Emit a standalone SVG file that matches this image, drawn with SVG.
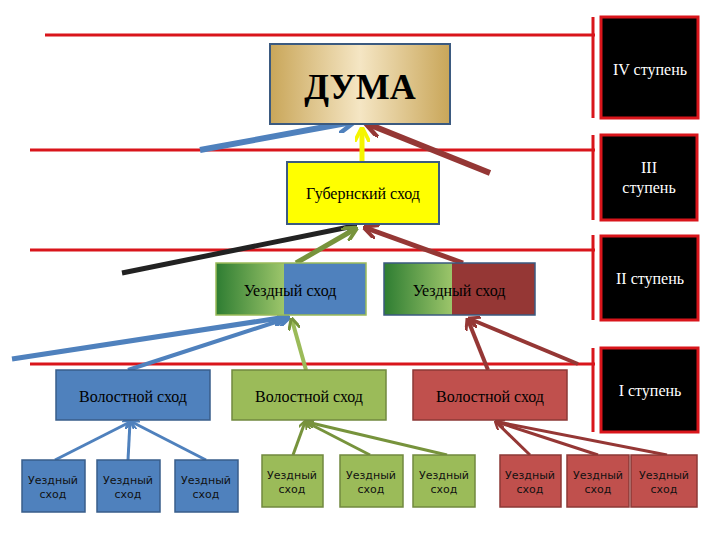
<svg xmlns="http://www.w3.org/2000/svg" width="720" height="540" viewBox="0 0 720 540">
<defs>
<linearGradient id="gold" x1="0" y1="0" x2="1" y2="0"><stop offset="0" stop-color="#c9a659"/><stop offset="0.5" stop-color="#f5e6c4"/><stop offset="1" stop-color="#c9a659"/></linearGradient>
<linearGradient id="gb" x1="0" y1="0" x2="1" y2="0"><stop offset="0" stop-color="#2e7d32"/><stop offset="0.45" stop-color="#9cc56a"/><stop offset="0.45" stop-color="#4f81bd"/><stop offset="1" stop-color="#4f81bd"/></linearGradient>
<linearGradient id="gr" x1="0" y1="0" x2="1" y2="0"><stop offset="0" stop-color="#2e7d32"/><stop offset="0.45" stop-color="#9cc56a"/><stop offset="0.45" stop-color="#953735"/><stop offset="1" stop-color="#953735"/></linearGradient>
<marker id="mb" viewBox="0 0 10 10" refX="8" refY="5" markerWidth="3" markerHeight="3" orient="auto"><path d="M0,0L10,5L0,10" fill="none" stroke="#4f81bd" stroke-width="2.5"/></marker>
<marker id="mr" viewBox="0 0 10 10" refX="8" refY="5" markerWidth="3" markerHeight="3" orient="auto"><path d="M0,0L10,5L0,10" fill="none" stroke="#953735" stroke-width="2.5"/></marker>
<marker id="mg" viewBox="0 0 10 10" refX="8" refY="5" markerWidth="3" markerHeight="3" orient="auto"><path d="M0,0L10,5L0,10" fill="none" stroke="#77933c" stroke-width="2.5"/></marker>
<marker id="mk" viewBox="0 0 10 10" refX="8" refY="5" markerWidth="3" markerHeight="3" orient="auto"><path d="M0,0L10,5L0,10" fill="none" stroke="#222" stroke-width="2.5"/></marker>
<marker id="my" viewBox="0 0 10 10" refX="8" refY="5" markerWidth="3" markerHeight="3" orient="auto"><path d="M0,0L10,5L0,10" fill="none" stroke="#f5f500" stroke-width="2.5"/></marker>
</defs>
<style>
.rl{stroke:#d9151b;stroke-width:3;fill:none}
.st{fill:#000;stroke:#d9151b;stroke-width:3}
.stt{fill:#fff;font-family:"Liberation Serif",serif;font-size:16px;text-anchor:middle}
.t{font-family:"Liberation Serif",serif;text-anchor:middle;fill:#000}
.s{font-family:"DejaVu Sans",sans-serif;font-size:11px;text-anchor:middle;fill:#111}
.box{stroke:#3b5a80;stroke-width:2}
.blu{fill:#4f81bd;stroke:#385d8a;stroke-width:1.5}
.grn{fill:#9bbb59;stroke:#71893f;stroke-width:1.5}
.red{fill:#c0504d;stroke:#8c3836;stroke-width:1.5}
</style>
<rect width="720" height="540" fill="#fff"/>
<g id="grid">
<path class="rl" d="M45,35H595M30,150H595M30,250H595M30,364H595M593,17V118M593,135V220M593,235V320M593,348V432"/>
</g>
<g id="steps">
<rect class="st" x="601" y="17" width="97" height="101"/><text class="stt" x="650" y="75">IV ступень</text>
<rect class="st" x="601" y="135" width="96" height="85"/><text class="stt" x="649" y="173">III</text><text class="stt" x="649" y="193">ступень</text>
<rect class="st" x="601" y="236" width="97" height="84"/><text class="stt" x="650" y="284">II ступень</text>
<rect class="st" x="601" y="348" width="97" height="84"/><text class="stt" x="650" y="396">I ступень</text>
</g>
<g id="connectors" fill="none" stroke-linecap="butt">
<line x1="200" y1="150" x2="352" y2="122" stroke="#4f81bd" stroke-width="6" marker-end="url(#mb)"/>
<line x1="490" y1="173" x2="368" y2="124" stroke="#953735" stroke-width="6" marker-end="url(#mr)"/>
<line x1="362" y1="162" x2="362" y2="130" stroke="#f5f500" stroke-width="5" marker-end="url(#my)"/>
<line x1="122" y1="273" x2="354" y2="226" stroke="#222" stroke-width="5" marker-end="url(#mk)"/>
<line x1="296" y1="263" x2="355" y2="229" stroke="#77933c" stroke-width="5" marker-end="url(#mg)"/>
<line x1="463" y1="263" x2="366" y2="228" stroke="#953735" stroke-width="5" marker-end="url(#mr)"/>
<line x1="12" y1="359" x2="286" y2="317" stroke="#4f81bd" stroke-width="5" marker-end="url(#mb)"/>
<line x1="128" y1="370" x2="288" y2="318" stroke="#4f81bd" stroke-width="4" marker-end="url(#mb)"/>
<line x1="306" y1="370" x2="292" y2="320" stroke="#9bbb59" stroke-width="4" marker-end="url(#mg)"/>
<line x1="488" y1="370" x2="468" y2="320" stroke="#953735" stroke-width="4" marker-end="url(#mr)"/>
<line x1="578" y1="364" x2="470" y2="319" stroke="#953735" stroke-width="4" marker-end="url(#mr)"/>
<g stroke="#4f81bd" stroke-width="3" marker-end="url(#mb)"><line x1="55" y1="460" x2="130" y2="422"/><line x1="128" y1="460" x2="130" y2="422"/><line x1="206" y1="460" x2="132" y2="422"/></g>
<g stroke="#77933c" stroke-width="3" marker-end="url(#mg)"><line x1="293" y1="455" x2="305" y2="422"/><line x1="370" y1="455" x2="306" y2="422"/><line x1="447" y1="455" x2="307" y2="422"/></g>
<g stroke="#953735" stroke-width="3" marker-end="url(#mr)"><line x1="530" y1="455" x2="496" y2="422"/><line x1="598" y1="455" x2="497" y2="422"/><line x1="667" y1="455" x2="498" y2="422"/></g>
</g>
<g id="duma"><rect x="270" y="44" width="180" height="80" fill="url(#gold)" class="box"/><text class="t" x="360" y="99" font-size="36" font-weight="bold">ДУМА</text></g>
<g id="gub"><rect x="287" y="162" width="152" height="62" fill="#ffff00" class="box"/><text class="t" x="363" y="199" font-size="16">Губернский сход</text></g>
<g id="uezd1"><rect x="216" y="263" width="150" height="52" fill="url(#gb)" stroke="#9bbb59" stroke-width="1.5"/><text class="t" x="290" y="296" font-size="16">Уездный сход</text></g>
<g id="uezd2"><rect x="384" y="263" width="151" height="52" fill="url(#gr)" stroke="#3b5a80" stroke-width="1.5"/><text class="t" x="459" y="296" font-size="16">Уездный сход</text></g>
<g id="vol1"><rect class="blu" x="56" y="370" width="154" height="50"/><text class="t" x="133" y="402" font-size="16">Волостной сход</text></g>
<g id="vol2"><rect class="grn" x="232" y="370" width="154" height="50"/><text class="t" x="309" y="402" font-size="16">Волостной сход</text></g>
<g id="vol3"><rect class="red" x="413" y="370" width="154" height="50"/><text class="t" x="490" y="402" font-size="16">Волостной сход</text></g>
<g id="b1"><rect class="blu" x="22" y="460" width="63" height="52"/><text class="s" x="53" y="484">Уездный</text><text class="s" x="53" y="498">сход</text></g>
<g id="b2"><rect class="blu" x="97" y="460" width="63" height="52"/><text class="s" x="128" y="484">Уездный</text><text class="s" x="128" y="498">сход</text></g>
<g id="b3"><rect class="blu" x="175" y="460" width="63" height="52"/><text class="s" x="206" y="484">Уездный</text><text class="s" x="206" y="498">сход</text></g>
<g id="b4"><rect class="grn" x="262" y="455" width="61" height="52"/><text class="s" x="292" y="479">Уездный</text><text class="s" x="292" y="493">сход</text></g>
<g id="b5"><rect class="grn" x="340" y="455" width="63" height="52"/><text class="s" x="371" y="479">Уездный</text><text class="s" x="371" y="493">сход</text></g>
<g id="b6"><rect class="grn" x="413" y="455" width="62" height="52"/><text class="s" x="444" y="479">Уездный</text><text class="s" x="444" y="493">сход</text></g>
<g id="b7"><rect class="red" x="500" y="455" width="61" height="52"/><text class="s" x="530" y="479">Уездный</text><text class="s" x="530" y="493">сход</text></g>
<g id="b8"><rect class="red" x="567" y="455" width="62" height="52"/><text class="s" x="598" y="479">Уездный</text><text class="s" x="598" y="493">сход</text></g>
<g id="b9"><rect class="red" x="631" y="455" width="66" height="52"/><text class="s" x="664" y="479">Уездный</text><text class="s" x="664" y="493">сход</text></g>
</svg>
